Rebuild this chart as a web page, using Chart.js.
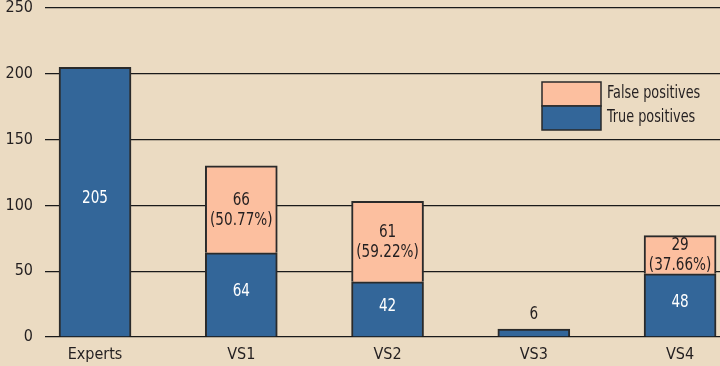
<!DOCTYPE html>
<html>
<head>
<meta charset="utf-8">
<script src="https://cdn.jsdelivr.net/npm/chart.js@4/dist/chart.umd.min.js"></script>
<style>
  html, body { margin: 0; padding: 0; background: #ebdbc2; }
  #wrap { width: 720px; height: 366px; }
</style>
</head>
<body>
<div id="wrap"><canvas id="vsChart"></canvas></div>
<script>
// categories and values
const categories = ['Experts', 'VS1', 'VS2', 'VS3', 'VS4'];
const truePositives = [205, 64, 42, 6, 48];
const falsePositives = [0, 66, 61, 0, 29];
const falsePct = ['', '50.77%', '59.22%', '', '37.66%'];
const yTicks = [0, 50, 100, 150, 200, 250];

const FONT = "'Liberation Sans Narrow', 'DejaVu Sans Condensed', sans-serif";
const BLUE = '#336699';
const SALMON = '#fcbf9f';
const EDGE = '#2a2a2a';
const TEXT = '#231f20';

// background
const bgPlugin = {
    id: 'bg',
    beforeDraw(chart) {
        const ctx = chart.ctx;
        ctx.save();
        ctx.fillStyle = '#ebdbc2';
        ctx.fillRect(0, 0, chart.width, chart.height);
        ctx.restore();
    }
};

// narrow text: squeeze horizontally so it looks like the condensed face
function narrowText(ctx, str, x, y) {
    ctx.save();
    ctx.translate(x, y);
    ctx.scale(0.84, 1);
    ctx.fillText(str, 0, 0);
    ctx.restore();
}

// value labels inside the bars (or above when the bar is too thin)
const labelPlugin = {
    id: 'barLabels',
    afterDatasetsDraw(chart) {
        const ctx = chart.ctx;
        ctx.save();
        ctx.font = '18px ' + FONT;
        ctx.textAlign = 'center';
        ctx.textBaseline = 'middle';
        chart.data.datasets.forEach((ds, di) => {
            const meta = chart.getDatasetMeta(di);
            meta.data.forEach((bar, i) => {
                const v = ds.data[i].y;
                if (!v) return;
                const h = bar.base - bar.y;
                const mid = (bar.y + bar.base) / 2;
                if (h < 20) {
                    ctx.fillStyle = TEXT;
                    narrowText(ctx, String(v), bar.x, bar.y - 15);
                } else if (di === 0) {
                    ctx.fillStyle = '#ffffff';
                    narrowText(ctx, String(v), bar.x, mid - 3);
                } else {
                    ctx.fillStyle = TEXT;
                    narrowText(ctx, String(v), bar.x, mid - 9);
                    narrowText(ctx, '(' + falsePct[i] + ')', bar.x, mid + 11);
                }
            });
        });
        ctx.restore();
    }
};

// stacked legend box at the upper right
const legendPlugin = {
    id: 'boxLegend',
    afterDraw(chart) {
        const ctx = chart.ctx;
        const x = 542, y = 82, w = 59, h = 24;
        const items = [chart.data.datasets[1], chart.data.datasets[0]];
        ctx.save();
        items.forEach((ds, k) => {
            ctx.fillStyle = ds.backgroundColor;
            ctx.fillRect(x, y + k * h, w, h);
            ctx.strokeStyle = EDGE;
            ctx.lineWidth = 1.5;
            ctx.strokeRect(x, y + k * h, w, h);
            ctx.fillStyle = TEXT;
            ctx.font = '17px ' + FONT;
            ctx.textAlign = 'left';
            ctx.textBaseline = 'middle';
            narrowText(ctx, ds.label, x + w + 6, y + k * h + h / 2);
        });
        ctx.restore();
    }
};

const ctx = document.getElementById('vsChart').getContext('2d');
new Chart(ctx, {
    type: 'bar',
    data: {
        datasets: [{
            label: 'True positives',
            data: categories.map((c, i) => ({ x: i, y: truePositives[i] })),
            backgroundColor: BLUE,
            borderColor: EDGE,
            borderWidth: 2,
            barThickness: 72
        }, {
            label: 'False positives',
            data: categories.map((c, i) => ({ x: i, y: falsePositives[i] })),
            backgroundColor: SALMON,
            borderColor: EDGE,
            borderWidth: 2,
            barThickness: 72
        }]
    },
    options: {
        responsive: true,
        maintainAspectRatio: false,
        animation: false,
        layout: { padding: 0 },
        plugins: {
            legend: { display: false },
            tooltip: { enabled: false }
        },
        scales: {
            x: {
                type: 'linear',
                stacked: true,
                offset: false,
                min: -0.342,
                max: 4.273,
                afterBuildTicks: scale => {
                    scale.ticks = categories.map((c, i) => ({ value: i }));
                },
                afterFit: scale => { scale.height = 29; },
                grid: { display: false, drawTicks: false },
                border: { display: false },
                ticks: {
                    padding: 8,
                    color: TEXT,
                    font: { family: FONT, size: 16 },
                    callback: v => categories[v]
                }
            },
            y: {
                stacked: true,
                min: 0,
                max: 250,
                afterBuildTicks: scale => {
                    scale.ticks = yTicks.map(v => ({ value: v }));
                },
                afterFit: scale => {
                    scale.width = 45;
                    scale.paddingTop = 8; // keep the 250 line near the top edge
                },
                grid: { color: '#1a1a1a', lineWidth: 1.3, drawTicks: false },
                border: { display: false },
                ticks: {
                    padding: 12,
                    color: TEXT,
                    font: { family: FONT, size: 16 }
                }
            }
        }
    },
    plugins: [bgPlugin, labelPlugin, legendPlugin]
});
</script>
</body>
</html>
